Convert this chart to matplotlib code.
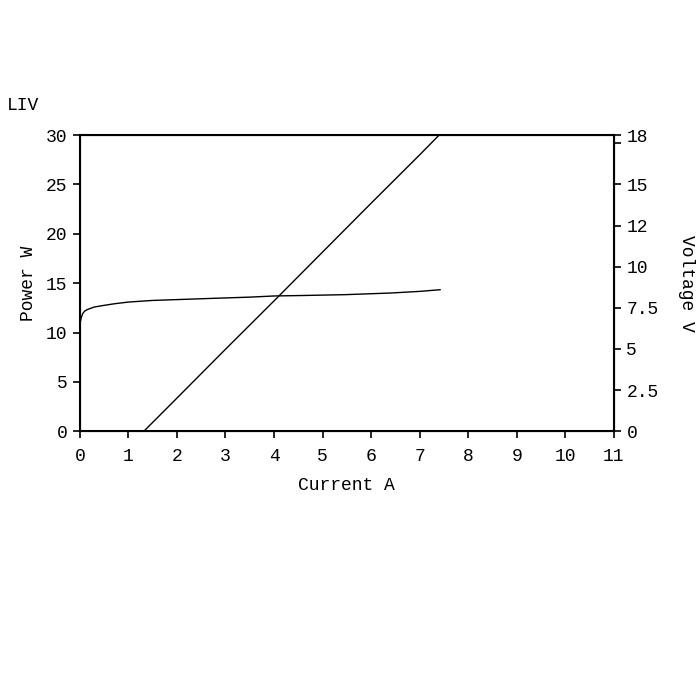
import matplotlib
matplotlib.use("Agg")
import matplotlib.pyplot as plt

plt.rcParams['font.family'] = ['Liberation Mono', 'DejaVu Sans Mono']

# Power vs current (W)
power_current = [0.0, 0.5, 1.0, 1.32, 2.0, 3.0, 4.0, 5.0, 6.0, 7.0, 7.40]
power_watts = [0.0, 0.0, 0.0, 0.0, 3.35, 8.3, 13.2, 18.15, 23.1, 28.0, 30.0]

# Voltage vs current (V)
volt_current = [0.0, 0.03, 0.06, 0.1, 0.16, 0.3, 0.5, 0.72, 1.0, 1.5, 2.0, 2.78, 3.5, 4.0, 4.6, 5.46, 6.4, 7.0, 7.42]
voltage = [6.5, 6.9, 7.15, 7.3, 7.4, 7.55, 7.65, 7.75, 7.85, 7.95, 8.0, 8.08, 8.15, 8.22, 8.25, 8.3, 8.4, 8.5, 8.6]

x_ticks = list(range(0, 12))
power_ticks = [0, 5, 10, 15, 20, 25, 30]
volt_ticks = [0, 2.5, 5, 7.5, 10, 12.5, 15, 17.5, 18]
volt_labels = ['0', '2.5', '5', '7.5', '10', '12', '15', '', '18']

fig = plt.figure(figsize=(7, 7), dpi=100)
ax = fig.add_axes([0.114, 0.384, 0.763, 0.423])

ax.plot(power_current, power_watts, color='black', lw=1.0, clip_on=False)
ax.set_xlim(0, 11)
ax.set_ylim(0, 30)
ax.set_xticks(x_ticks)
ax.set_yticks(power_ticks)
ax.tick_params(direction='out', length=5, width=1.2, labelsize=13, pad=4)
ax.tick_params(axis='x', pad=7)
for s in ax.spines.values():
    s.set_linewidth(1.5)
ax.set_xlabel('Current A', fontsize=13, labelpad=9)
ax.set_ylabel('Power W', fontsize=13, labelpad=6)

ax2 = ax.twinx()
ax2.plot(volt_current, voltage, color='black', lw=1.0)
ax2.set_ylim(0, 18)
ax2.set_yticks(volt_ticks)
ax2.set_yticklabels(volt_labels)
ax2.tick_params(direction='out', length=5, width=1.2, labelsize=13, pad=4)
ax2.set_ylabel('Voltage V', fontsize=13, rotation=-90, labelpad=26)

fig.text(0.01, 0.85, 'LIV', fontsize=13, ha='left', va='center')

fig.savefig('out.png', dpi=100)
